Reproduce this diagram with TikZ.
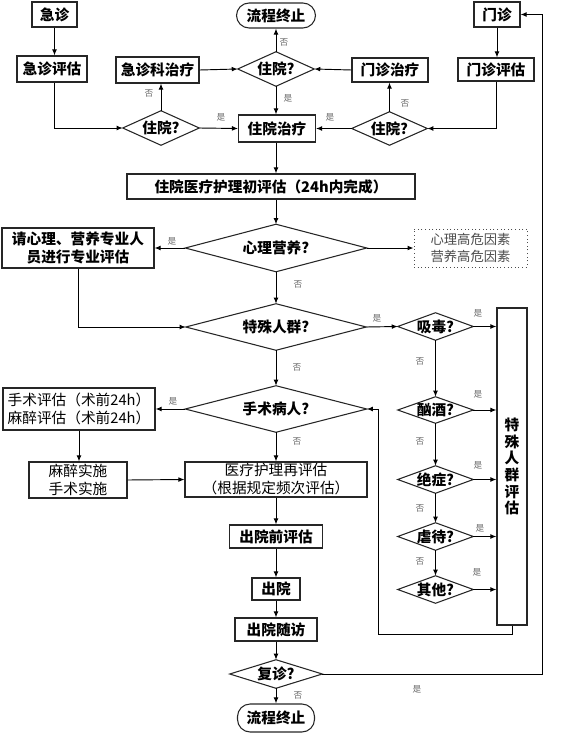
\documentclass[tikz,border=0pt]{standalone}
\usepackage{fontspec}
\setmainfont{Noto Sans CJK SC}
\usetikzlibrary{arrows.meta}
\begin{document}
\begin{tikzpicture}[x=0.75pt,y=-0.75pt,
  sz/.style 2 args={minimum width=#1*0.75pt,minimum height=#2*0.75pt},
  box/.style={draw=black!85,line width=0.8pt,inner sep=0pt,font=\fontsize{11}{13.5}\selectfont\bfseries,align=center},
  rbox/.style={box,font=\fontsize{11}{13.5}\selectfont},
  term/.style={box,rounded corners=9.5pt},
  dbox/.style={draw=black!70,dotted,line width=0.7pt,inner sep=0pt,align=center,text=black!70,font=\fontsize{10}{12.5}\selectfont},
  dia/.style={inner sep=0pt,font=\fontsize{11}{13}\selectfont\bfseries},
  dborder/.style={draw=black!85,line width=0.8pt},
  lbl/.style={font=\fontsize{6.5}{7}\selectfont,text=black!60,inner sep=0pt},
  arr/.style={line width=0.7pt,-{Latex[length=4.5pt,width=3.6pt]}},
  ln/.style={line width=0.7pt}
]
\useasboundingbox (0,0) rectangle (580,735);
% nodes
\node[box,sz={45}{25}] (jz) at (54.5,14.5) {急诊};
\node[box,sz={70}{26}] (jzpg) at (52,69) {急诊评估};
\node[box,sz={83}{26}] (jzkzl) at (157.5,70) {急诊科治疗};
\node[dia,sz={76}{34}] (d1) at (276,69) {住院?};
\node[term,sz={79}{25}] (end1) at (276,15.5) {流程终止};
\node[dia,sz={76}{34}] (d2) at (161,128) {住院?};
\node[box,sz={77}{27}] (zyzl) at (277,128.5) {住院治疗};
\node[box,sz={46}{25}] (mz) at (497,14.5) {门诊};
\node[box,sz={76}{23}] (mzpg) at (496,69.5) {门诊评估};
\node[box,sz={76}{24}] (mzzl) at (390,70) {门诊治疗};
\node[dia,sz={75}{33}] (d3) at (389.5,128.5) {住院?};
\node[box,sz={288}{25}] (cpg) at (271,186.5) {住院医疗护理初评估（24h内完成）};
\node[dia,sz={181}{47}] (d4) at (276,248) {心理营养?};
\node[box,sz={152}{40}] (qxl) at (78,248) {请心理、营养专业人\\员进行专业评估};
\node[dbox,sz={113}{38}] (wx) at (470.5,248) {心理高危因素\\营养高危因素};
\node[dia,sz={180}{46}] (d5) at (276,327) {特殊人群?};
\node[dia,sz={75}{27}] (xd) at (435.5,326.5) {吸毒?};
\node[box,sz={30}{317},font=\fontsize{11}{12.5}\selectfont\bfseries] (tsrq) at (512,466.5) {特\\殊\\人\\群\\评\\估};
\node[dia,sz={75}{26}] (xj) at (435.5,410) {酗酒?};
\node[dia,sz={75}{27}] (jzh) at (435.5,479.5) {绝症?};
\node[dia,sz={75}{27}] (nd) at (435.5,536.5) {虐待?};
\node[dia,sz={75}{27}] (qt) at (435.5,589.5) {其他?};
\node[dia,sz={181}{46}] (d6) at (276,409) {手术病人?};
\node[rbox,sz={152}{42}] (sspg) at (79,409) {手术评估（术前24h）\\麻醉评估（术前24h）};
\node[rbox,sz={98}{36}] (mzss) at (78,480) {麻醉实施\\手术实施};
\node[rbox,sz={182}{35}] (zpg) at (276,479.5) {医疗护理再评估\\（根据规定频次评估）};
\node[box,sz={93}{23}] (cyqpg) at (276,536.5) {出院前评估};
\node[box,sz={48}{22}] (cy) at (276,589) {出院};
\node[box,sz={82}{23}] (cysf) at (276,629.5) {出院随访};
\node[dia,sz={92}{28}] (d7) at (276,674) {复诊?};
\node[term,sz={77}{28}] (end2) at (276,718) {流程终止};
\coordinate (lp) at (378,634);
\coordinate (rt) at (542,14.5);
% diamond borders
\foreach \n in {d1,d2,d3,d4,d5,d6,d7,xd,xj,jzh,nd,qt}
  \draw[dborder] (\n.north) -- (\n.east) -- (\n.south) -- (\n.west) -- cycle;
% connectors top
\draw[arr] (jz.south) -- (jz.south |- jzpg.north);
\draw[arr] (jz.south |- jzpg.south) |- (d2.west);
\draw[arr] (d2.north) -- (d2.north |- jzkzl.south);
\draw[arr] (d2.east) -- (zyzl.west);
\draw[arr] (jzkzl.east) -- (d1.west);
\draw[arr] (d1.north) -- (d1.north |- end1.south);
\draw[arr] (d1.south) -- (d1.south |- zyzl.north);
\draw[arr] (mz.south) -- (mz.south |- mzpg.north);
\draw[arr] (mzpg.south) |- (d3.east);
\draw[arr] (d3.north) -- (d3.north |- mzzl.south);
\draw[arr] (d3.west) -- (zyzl.east);
\draw[arr] (mzzl.west) -- (d1.east);
\draw[arr] (d4.north |- zyzl.south) -- (d4.north |- cpg.north);
\draw[arr] (d4.north |- cpg.south) -- (d4.north);
% middle
\draw[arr] (d4.west) -- (qxl.east);
\draw[arr] (d4.east) -- (wx.west);
\draw[arr] (d4.south) -- (d5.north);
\draw[arr] (qxl.south) |- (d5.west);
\draw[arr] (d5.east) -- (xd.west);
\draw[arr] (xd.east) -- (xd.east -| tsrq.west);
\draw[arr] (xj.east) -- (xj.east -| tsrq.west);
\draw[arr] (jzh.east) -- (jzh.east -| tsrq.west);
\draw[arr] (nd.east) -- (nd.east -| tsrq.west);
\draw[arr] (qt.east) -- (qt.east -| tsrq.west);
\draw[arr] (xd.south) -- (xj.north);
\draw[arr] (xj.south) -- (jzh.north);
\draw[arr] (jzh.south) -- (nd.north);
\draw[arr] (nd.south) -- (qt.north);
\draw[arr] (tsrq.south) |- (lp) |- (d6.east);
\draw[arr] (d5.south) -- (d6.north);
\draw[arr] (d6.west) -- (sspg.east);
\draw[arr] (sspg.south) -- (sspg.south |- mzss.north);
\draw[arr] (mzss.east) -- (zpg.west);
\draw[arr] (d6.south) -- (zpg.north);
% bottom
\draw[arr] (zpg.south) -- (cyqpg.north);
\draw[arr] (cyqpg.south) -- (cy.north);
\draw[arr] (cy.south) -- (cysf.north);
\draw[arr] (cysf.south) -- (d7.north);
\draw[arr] (d7.south) -- (end2.north);
\draw[arr] (d7.east) -| (rt) -- (mz.east);
% labels
\node[lbl] (l1) at (284,42) {否};
\node[lbl] (l2) at (288,98) {是};
\node[lbl] (l3) at (149,93) {否};
\node[lbl] (l4) at (221,117) {是};
\node[lbl] (l5) at (405,103) {否};
\node[lbl] (l6) at (330,117) {是};
\node[lbl] (l7) at (172,241) {是};
\node[lbl] (l8) at (298,284) {否};
\node[lbl] (l9) at (377,318) {是};
\node[lbl] (l10) at (478,313) {是};
\node[lbl] (l11) at (420,361) {否};
\node[lbl] (l12) at (478,394) {是};
\node[lbl] (l13) at (297,367) {否};
\node[lbl] (l14) at (420,441) {否};
\node[lbl] (l15) at (297,441) {否};
\node[lbl] (l16) at (478,465) {是};
\node[lbl] (l17) at (420,508) {否};
\node[lbl] (l18) at (480,528) {是};
\node[lbl] (l19) at (420,561) {否};
\node[lbl] (l20) at (477,572) {是};
\node[lbl] (l21) at (173,401) {是};
\node[lbl] (l22) at (298,695) {否};
\node[lbl] (l23) at (417,689) {是};
\end{tikzpicture}
\end{document}
